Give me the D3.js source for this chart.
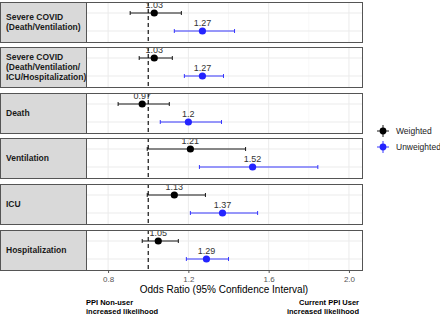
<!DOCTYPE html>
<html>
<head>
<meta charset="utf-8">
<script src="https://cdn.jsdelivr.net/npm/d3@7"></script>
<style>
  body { margin: 0; background: #fff; }
  text { font-family: "Liberation Sans", Arial, sans-serif; }
</style>
</head>
<body>
<svg width="440" height="317"></svg>
<script>
// outcomes (facet rows)
const outcomes = [
  ['Severe COVID', '(Death/Ventilation)'],
  ['Severe COVID', '(Death/Ventilation/', 'ICU/Hospitalization)'],
  ['Death'],
  ['Ventilation'],
  ['ICU'],
  ['Hospitalization']
];

// weighted odds ratios + CI
const weightedOR = [1.03, 1.03, 0.97, 1.21, 1.13, 1.05];
const weightedLo = [0.91, 0.955, 0.85, 0.995, 0.995, 0.97];
const weightedHi = [1.165, 1.12, 1.105, 1.485, 1.285, 1.15];

// unweighted odds ratios + CI
const unweightedOR = [1.27, 1.27, 1.2, 1.52, 1.37, 1.29];
const unweightedLo = [1.13, 1.18, 1.06, 1.255, 1.21, 1.19];
const unweightedHi = [1.43, 1.375, 1.365, 1.845, 1.545, 1.40];

const xTicks = [0.8, 1.2, 1.6, 2.0];
const xMinor = [1.0, 1.4, 1.8];

const series = [
  { name: 'Weighted', color: '#000000', or: weightedOR, lo: weightedLo, hi: weightedHi, pos: 0 },
  { name: 'Unweighted', color: '#2424ff', or: unweightedOR, lo: unweightedLo, hi: unweightedHi, pos: 1 }
];

const svg = d3.select('svg');
const stripX = 0, stripW = 86;
const panelL = 86, panelR = 362;
const panelTops = [2, 47, 93, 138, 184, 230];
const panelH = 40;

const x = d3.scaleLinear().domain([0.69, 2.065]).range([panelL, panelR]);
const yIn = d3.scalePoint().domain([0, 1]).range([11, 29]);

outcomes.forEach(function(lines, i) {
  const g = svg.append('g').attr('transform', 'translate(0,' + panelTops[i] + ')');

  // strip on the left
  g.append('rect')
    .attr('x', stripX + 0.5).attr('y', 0.5)
    .attr('width', stripW).attr('height', panelH)
    .attr('fill', '#d9d9d9').attr('stroke', '#555').attr('stroke-width', 1);
  const lh = 10;
  const t = g.append('text')
    .attr('x', 6)
    .attr('font-size', 8.5).attr('font-weight', 'bold').attr('fill', '#1a1a1a');
  lines.forEach(function(l, k) {
    t.append('tspan').attr('x', 6)
      .attr('y', panelH / 2 + 3 + (k - (lines.length - 1) / 2) * lh)
      .text(l);
  });

  // panel background + grid
  g.append('rect')
    .attr('x', panelL + 0.5).attr('y', 0.5)
    .attr('width', panelR - panelL).attr('height', panelH)
    .attr('fill', '#fff');
  g.selectAll('.minor').data(xMinor).join('line')
    .attr('x1', d => x(d)).attr('x2', d => x(d))
    .attr('y1', 0).attr('y2', panelH)
    .attr('stroke', '#f2f2f2').attr('stroke-width', 0.6);
  g.selectAll('.major').data(xTicks).join('line')
    .attr('x1', d => x(d)).attr('x2', d => x(d))
    .attr('y1', 0).attr('y2', panelH)
    .attr('stroke', '#ebebeb').attr('stroke-width', 1);
  g.selectAll('.hgrid').data([0, 1]).join('line')
    .attr('x1', panelL).attr('x2', panelR)
    .attr('y1', d => yIn(d)).attr('y2', d => yIn(d))
    .attr('stroke', '#ebebeb').attr('stroke-width', 1);

  // reference line at OR = 1
  g.append('line')
    .attr('x1', x(1)).attr('x2', x(1))
    .attr('y1', 0).attr('y2', panelH)
    .attr('stroke', '#000').attr('stroke-width', 1.1)
    .attr('stroke-dasharray', '4,3');

  series.forEach(function(s) {
    const yy = yIn(s.pos);
    g.append('line')
      .attr('x1', x(s.lo[i])).attr('x2', x(s.hi[i]))
      .attr('y1', yy).attr('y2', yy)
      .attr('stroke', s.color).attr('stroke-width', 0.9);
    [s.lo[i], s.hi[i]].forEach(function(v) {
      g.append('line')
        .attr('x1', x(v)).attr('x2', x(v))
        .attr('y1', yy - 2).attr('y2', yy + 2)
        .attr('stroke', s.color).attr('stroke-width', 0.9);
    });
    g.append('circle')
      .attr('cx', x(s.or[i])).attr('cy', yy).attr('r', 3.6)
      .attr('fill', s.color);
    g.append('text')
      .attr('x', x(s.or[i])).attr('y', yy - 5)
      .attr('text-anchor', 'middle')
      .attr('font-size', 9).attr('fill', '#333')
      .text(s.or[i]);
  });

  g.append('rect')
    .attr('x', panelL + 0.5).attr('y', 0.5)
    .attr('width', panelR - panelL).attr('height', panelH)
    .attr('fill', 'none').attr('stroke', '#555').attr('stroke-width', 1);
});

// x axis
const axisY = panelTops[5] + panelH + 1;
const ax = svg.append('g').attr('transform', 'translate(0,' + axisY + ')')
  .call(d3.axisBottom(x).tickValues(xTicks).tickFormat(d3.format('.1f')).tickSize(2).tickPadding(3));
ax.select('.domain').remove();
ax.selectAll('line').attr('stroke', '#555');
ax.selectAll('text').attr('font-size', 8).attr('fill', '#555')
  .attr('font-family', '"Liberation Sans", Arial, sans-serif');

svg.append('text')
  .attr('x', (panelL + panelR) / 2).attr('y', 293)
  .attr('text-anchor', 'middle').attr('font-size', 10).attr('fill', '#000')
  .text('Odds Ratio (95% Confidence Interval)');

// direction notes
const noteL = svg.append('text').attr('font-size', 7.5).attr('font-weight', 'bold').attr('fill', '#000');
noteL.append('tspan').attr('x', panelL).attr('y', 305).text('PPI Non-user');
noteL.append('tspan').attr('x', panelL).attr('y', 314).text('increased likelihood');
const noteR = svg.append('text').attr('font-size', 7.5).attr('font-weight', 'bold').attr('fill', '#000')
  .attr('text-anchor', 'end');
noteR.append('tspan').attr('x', panelR - 3).attr('y', 305).text('Current PPI User');
noteR.append('tspan').attr('x', panelR - 3).attr('y', 314).text('increased likelihood');

// legend
const legendY = d3.scalePoint().domain(series.map(s => s.name)).range([131, 147]);
series.forEach(function(s) {
  const lg = svg.append('g').attr('transform', 'translate(383,' + legendY(s.name) + ')');
  lg.append('line').attr('x1', -6).attr('x2', 6).attr('y1', 0).attr('y2', 0)
    .attr('stroke', s.color).attr('stroke-width', 0.9);
  lg.append('line').attr('x1', 0).attr('x2', 0).attr('y1', -6).attr('y2', 6)
    .attr('stroke', s.color).attr('stroke-width', 0.9);
  lg.append('circle').attr('r', 3.4).attr('fill', s.color);
  lg.append('text').attr('x', 13).attr('y', 3).attr('font-size', 8.5).attr('fill', '#222')
    .text(s.name);
});
</script>
</body>
</html>
